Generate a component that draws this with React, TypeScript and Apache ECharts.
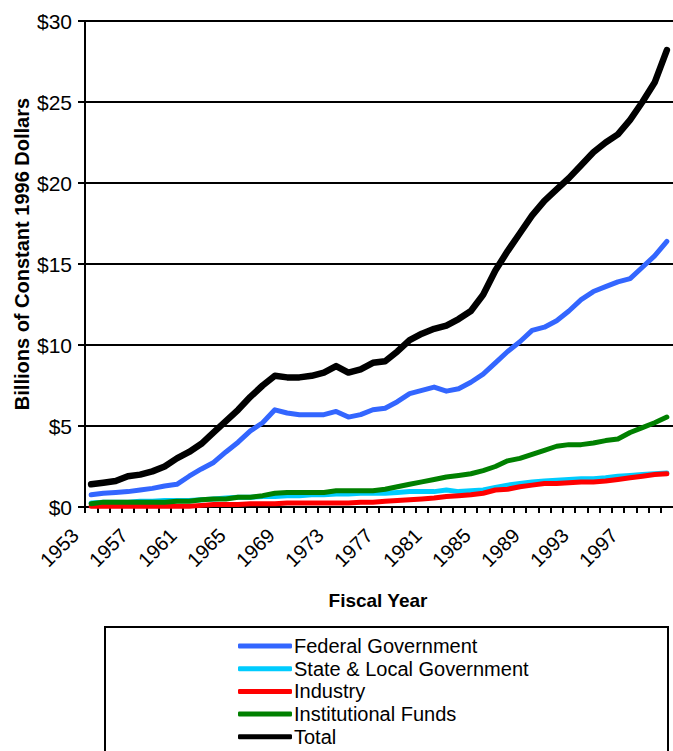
import React, { useEffect, useRef } from "react";
import * as echarts from "echarts";

const years: number[] = [];
for (let y = 1953; y <= 2000; y++) years.push(y);

const federal = [0.75, 0.85, 0.9, 0.95, 1.05, 1.15, 1.3, 1.4, 1.9, 2.35, 2.75, 3.4, 4.0, 4.7, 5.2, 6.0, 5.8, 5.7, 5.7, 5.7, 5.9, 5.55, 5.7, 6.0, 6.1, 6.5, 7.0, 7.2, 7.4, 7.15, 7.3, 7.7, 8.2, 8.9, 9.6, 10.2, 10.9, 11.1, 11.5, 12.1, 12.8, 13.3, 13.6, 13.9, 14.1, 14.8, 15.5, 16.4];
const stateLocal = [0.25, 0.3, 0.3, 0.3, 0.35, 0.35, 0.4, 0.4, 0.4, 0.45, 0.5, 0.55, 0.6, 0.6, 0.65, 0.65, 0.7, 0.7, 0.75, 0.75, 0.8, 0.8, 0.85, 0.85, 0.85, 0.9, 0.95, 0.95, 0.95, 1.05, 0.95, 1.0, 1.05, 1.2, 1.35, 1.45, 1.55, 1.6, 1.65, 1.7, 1.75, 1.75, 1.8, 1.9, 1.95, 2.0, 2.05, 2.1];
const industry = [0.05, 0.05, 0.05, 0.05, 0.05, 0.05, 0.05, 0.05, 0.05, 0.1, 0.15, 0.15, 0.15, 0.2, 0.2, 0.2, 0.25, 0.25, 0.25, 0.25, 0.25, 0.25, 0.3, 0.3, 0.35, 0.4, 0.45, 0.5, 0.55, 0.65, 0.7, 0.75, 0.85, 1.05, 1.1, 1.25, 1.35, 1.45, 1.45, 1.5, 1.55, 1.55, 1.6, 1.7, 1.8, 1.9, 2.0, 2.05];
const institutional = [0.2, 0.3, 0.3, 0.3, 0.3, 0.3, 0.3, 0.35, 0.35, 0.45, 0.5, 0.5, 0.6, 0.6, 0.7, 0.85, 0.9, 0.9, 0.9, 0.9, 1.0, 1.0, 1.0, 1.0, 1.1, 1.25, 1.4, 1.55, 1.7, 1.85, 1.95, 2.05, 2.25, 2.5, 2.85, 3.0, 3.25, 3.5, 3.75, 3.85, 3.85, 3.95, 4.1, 4.2, 4.6, 4.9, 5.2, 5.55];
const total = [1.4, 1.5, 1.6, 1.9, 2.0, 2.2, 2.5, 3.0, 3.4, 3.9, 4.6, 5.3, 6.0, 6.8, 7.5, 8.1, 8.0, 8.0, 8.1, 8.3, 8.7, 8.3, 8.5, 8.9, 9.0, 9.6, 10.3, 10.7, 11.0, 11.2, 11.6, 12.1, 13.1, 14.6, 15.8, 16.9, 18.0, 18.9, 19.6, 20.3, 21.1, 21.9, 22.5, 23.0, 23.9, 25.0, 26.2, 28.2];

const seriesNames = ["Federal Government", "State & Local Government", "Industry", "Institutional Funds", "Total"];
const seriesColors = ["#3366FF", "#00CCFF", "#FF0000", "#008000", "#000000"];
const seriesData = [federal, stateLocal, industry, institutional, total];

const FONT = "'Liberation Sans', Arial, Helvetica, sans-serif";

export default function App() {
  const ref = useRef<HTMLDivElement>(null);
  useEffect(() => {
    if (!ref.current) return;
    const chart = echarts.init(ref.current, null, { renderer: "svg" });
    chart.setOption({
      animation: false,
      backgroundColor: "#ffffff",
      textStyle: { fontFamily: FONT },
      grid: { left: 85, right: -2, top: 21, bottom: 244, containLabel: false },
      xAxis: {
        type: "value",
        min: 1952.5,
        max: 2000.5,
        interval: 1,
        axisLine: { show: true, lineStyle: { color: "#000", width: 2 } },
        axisTick: { show: true, length: 6, lineStyle: { color: "#000", width: 2 } },
        splitLine: { show: false },
        axisLabel: {
          rotate: 45,
          margin: 15,
          padding: [0, 14, 0, 0],
          color: "#000",
          fontSize: 20,
          fontFamily: FONT,
          showMaxLabel: false,
          formatter: (v: number) => {
            const y = Math.round(v + 0.5);
            return y <= 2000 && (y - 1953) % 4 === 0 ? String(y) : "";
          },
        },
      },
      yAxis: {
        type: "value",
        min: 0,
        max: 30,
        interval: 5,
        axisLine: { show: true, lineStyle: { color: "#000", width: 2 } },
        axisTick: { show: true, length: 7, lineStyle: { color: "#000", width: 2 } },
        splitLine: { show: true, lineStyle: { color: "#000", width: 2 } },
        axisLabel: {
          margin: 13,
          color: "#000",
          fontSize: 21,
          fontFamily: FONT,
          formatter: (v: number) => "$" + v,
        },
      },
      legend: {
        orient: "vertical",
        left: 233,
        top: 631,
        height: 140,
        itemWidth: 54,
        itemHeight: 5,
        itemGap: 2.7,
        icon: "roundRect",
        textStyle: { fontSize: 20, lineHeight: 20, color: "#000", fontFamily: FONT, padding: [0, 0, 0, -3] },
        data: seriesNames,
      },
      graphic: [
        {
          type: "rect",
          shape: { x: 105, y: 627, width: 563, height: 200 },
          style: { fill: "none", stroke: "#000", lineWidth: 2 },
          z: -1,
        },
        {
          type: "text",
          x: 22,
          y: 254,
          rotation: Math.PI / 2,
          style: {
            text: "Billions of Constant 1996 Dollars",
            fontSize: 20,
            fontWeight: "bold",
            fontFamily: FONT,
            fill: "#000",
            align: "center",
            verticalAlign: "middle",
          },
        },
        {
          type: "text",
          x: 378,
          y: 600,
          style: {
            text: "Fiscal Year",
            fontSize: 19,
            fontWeight: "bold",
            fontFamily: FONT,
            fill: "#000",
            align: "center",
            verticalAlign: "middle",
          },
        },
      ],
      series: seriesNames.map((name, i) => ({
        name,
        type: "line",
        data: seriesData[i].map((v, j) => [years[j], v]),
        symbol: "none",
        smooth: false,
        color: seriesColors[i],
        lineStyle: { color: seriesColors[i], width: i === 4 ? 6.5 : 5, cap: "round", join: "round" },
        z: 2 + i,
      })),
    });
    return () => chart.dispose();
  }, []);
  return <div ref={ref} style={{ position: "fixed", left: 0, top: 0, width: 673, height: 751 }} />;
}
